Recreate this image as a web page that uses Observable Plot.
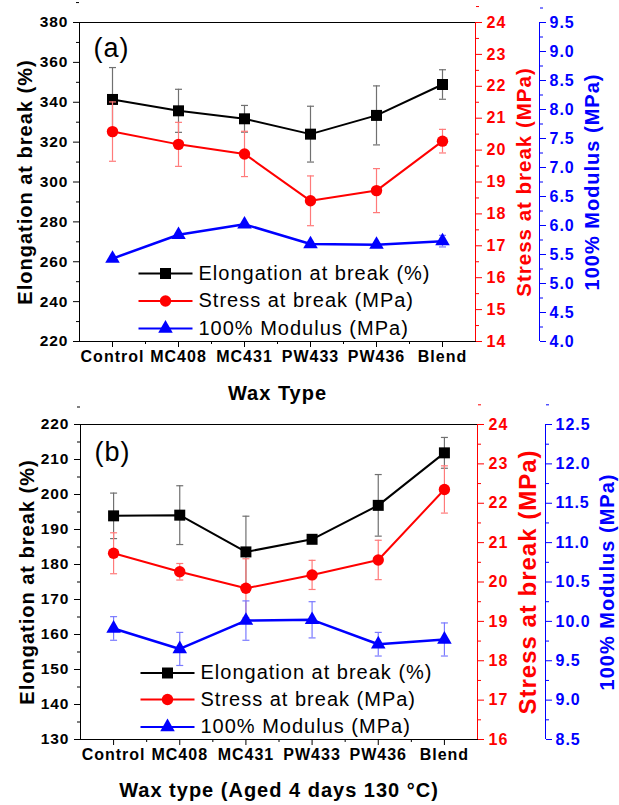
<!DOCTYPE html>
<html><head><meta charset="utf-8">
<script src="https://cdn.jsdelivr.net/npm/d3@7"></script>
<script src="https://cdn.jsdelivr.net/npm/@observablehq/plot@0.6"></script>
<style>
html,body{margin:0;padding:0;background:#fff;}
#chart{width:619px;height:805px;overflow:hidden;}
#chart svg{display:block;}
</style></head><body><div id="chart"></div>
<script>
// ---------- data ----------
const categories = ["Control", "MC408", "MC431", "PW433", "PW436", "Blend"];
const seriesNames = ["Elongation at break (%)", "Stress at break (MPa)", "100% Modulus (MPa)"];

// panel (a)
const elongA    = [341.4, 335.7, 331.7, 324.0, 333.4, 348.9];
const elongErrA = [16.0, 10.8, 6.7, 14.0, 14.8, 7.4];
const stressA    = [20.58, 20.18, 19.88, 18.41, 18.73, 20.28];
const stressErrA = [0.93, 0.69, 0.71, 0.78, 0.69, 0.37];
const modA    = [5.43, 5.84, 6.02, 5.68, 5.67, 5.73];
const modErrA = [0.03, 0.03, 0.03, 0.03, 0.03, 0.10];

// panel (b)
const elongB    = [193.9, 194.1, 183.6, 187.2, 196.9, 211.9];
const elongErrB = [6.5, 8.4, 10.2, 1.0, 8.8, 4.4];
const stressB    = [20.73, 20.26, 19.84, 20.18, 20.56, 22.35];
const stressErrB = [0.52, 0.21, 0.75, 0.37, 0.50, 0.60];
const modB    = [9.91, 9.65, 10.01, 10.02, 9.71, 9.77];
const modErrB = [0.15, 0.21, 0.25, 0.23, 0.15, 0.21];

// axis domains and tick steps
const leftDomA = [220, 380], leftStepA = 20;
const redDomA = [14, 24], redStepA = 1;
const blueDomA = [4, 9.5], blueStepA = 0.5;
const leftDomB = [130, 220], leftStepB = 10;
const redDomB = [16, 24], redStepB = 1;
const blueDomB = [8.5, 12.5], blueStepB = 0.5;

const xTitleA = "Wax Type";
const xTitleB = "Wax type (Aged 4 days 130 \u00B0C)";
const leftTitle = "Elongation at break (%)";
const redTitle = "Stress at break (MPa)";
const blueTitle = "100% Modulus (MPa)";

// ---------- drawing ----------
const RED = "#ff0000", BLUE = "#0000ff";
const FONT = "'Liberation Sans', Arial, Helvetica, sans-serif";
const hline = (hw) => ({draw(ctx) { ctx.moveTo(-hw, 0); ctx.lineTo(hw, 0); }});
const range = (a, b, s) => { const out = []; const n = Math.round((b - a) / s); for (let k = 0; k <= n; k++) out.push(+(a + k * s).toFixed(4)); return out; };

function panel(p) {
  const [L0, L1] = p.left;
  const map = (d) => (v) => L0 + (v - d[0]) / (d[1] - d[0]) * (L1 - L0);
  const unmap = (d) => (v) => d[0] + (v - L0) / (L1 - L0) * (d[1] - d[0]);
  const R = map(p.red), B = map(p.blue), uR = unmap(p.red), uB = unmap(p.blue);
  const rows = categories.map((c, k) => ({
    i: k + 1,
    e: p.elong[k], e1: p.elong[k] - p.elongErr[k], e2: p.elong[k] + p.elongErr[k],
    s: R(p.stress[k]), s1: R(p.stress[k] - p.stressErr[k]), s2: R(p.stress[k] + p.stressErr[k]),
    m: B(p.mod[k]), m1: B(p.mod[k] - p.modErr[k]), m2: B(p.mod[k] + p.modErr[k])
  }));
  const series = [
    {v: "e", lo: "e1", hi: "e2", color: "#000", err: "#707070", symbol: "square", r: 6.2, w: 2},
    {v: "s", lo: "s1", hi: "s2", color: RED, err: "#ff7a7a", symbol: "circle", r: 5.7, w: 2},
    {v: "m", lo: "m1", hi: "m2", color: BLUE, err: "#7a7aff", symbol: "triangle", r: 5.4, w: 2.5}
  ];
  const marks = [];
  marks.push(Plot.frame({stroke: "#000", strokeWidth: 1}));
  for (const s of series) {
    marks.push(Plot.ruleX(rows, {x: "i", y1: s.lo, y2: s.hi, stroke: s.err, strokeWidth: 1.2}));
    marks.push(Plot.dot(rows, {x: "i", y: s.lo, symbol: hline(3.5), fill: "none", stroke: s.err, strokeWidth: 1.2}));
    marks.push(Plot.dot(rows, {x: "i", y: s.hi, symbol: hline(3.5), fill: "none", stroke: s.err, strokeWidth: 1.2}));
    marks.push(Plot.line(rows, {x: "i", y: s.v, stroke: s.color, strokeWidth: s.w}));
    marks.push(Plot.dot(rows, {x: "i", y: s.v, symbol: s.symbol, r: s.r, fill: s.color, stroke: "none"}));
  }
  // axes lines (right red, offset blue)
  marks.push(Plot.ruleX([6.5], {x: d => d, stroke: RED, strokeWidth: 1}));
  marks.push(Plot.ruleX([6.5], {x: d => d, dx: p.blueOff, stroke: BLUE, strokeWidth: 1}));
  // left axis
  marks.push(Plot.axisY(range(p.left[0], p.left[1], p.leftStep), {anchor: "left", tickSize: 6, tickPadding: 5, fontSize: 15.5, fontWeight: "bold", tickFormat: d => String(Math.round(d)), label: null}));
  marks.push(Plot.axisY(range(p.left[0] + p.leftStep / 2, p.left[1], p.leftStep), {anchor: "left", tickSize: 3, tickFormat: () => "", label: null}));
  // red axis
  marks.push(Plot.axisY(range(p.red[0], p.red[1], p.redStep).map(R), {anchor: "right", color: RED, tickSize: 6, tickPadding: 5, fontSize: 16, fontWeight: "bold", tickFormat: d => String(Math.round(uR(d))), label: null}));
  marks.push(Plot.axisY(range(p.red[0] + p.redStep / 2, p.red[1], p.redStep).map(R), {anchor: "right", color: RED, tickSize: 3, tickFormat: () => "", label: null}));
  // blue axis
  marks.push(Plot.axisY(range(p.blue[0], p.blue[1], p.blueStep).map(B), {anchor: "right", dx: p.blueOff, color: BLUE, tickSize: 6, tickPadding: 4, fontSize: 16, fontWeight: "bold", tickFormat: d => (Math.round(uB(d) * 100) / 100).toFixed(1), label: null}));
  marks.push(Plot.axisY(range(p.blue[0] + p.blueStep / 2, p.blue[1], p.blueStep).map(B), {anchor: "right", dx: p.blueOff, color: BLUE, tickSize: 3, tickFormat: () => "", label: null}));
  // x axis
  marks.push(Plot.axisX([1, 2, 3, 4, 5, 6], {tickSize: 6, tickPadding: 3, fontSize: 16, fontWeight: "bold", tickFormat: i => categories[i - 1], label: null}));
  marks.push(Plot.axisX([1.5, 2.5, 3.5, 4.5, 5.5], {tickSize: 3, tickFormat: () => "", label: null}));
  // titles
  const titleOpts = {text: d => d, rotate: -90, textAnchor: "middle", lineAnchor: "middle", fontWeight: "bold"};
  marks.push(Plot.text([leftTitle], {...titleOpts, frameAnchor: "left", dx: p.leftTitleDx, fontSize: 20, fill: "#000"}));
  marks.push(Plot.text([redTitle], {...titleOpts, frameAnchor: "right", dx: p.redTitleDx, fontSize: p.redTitleSize, fill: RED}));
  marks.push(Plot.text([blueTitle], {...titleOpts, frameAnchor: "right", dx: p.blueTitleDx, fontSize: 20, fill: BLUE}));
  marks.push(Plot.text([p.xTitle], {text: d => d, frameAnchor: "bottom", dy: p.xTitleDy, textAnchor: "middle", lineAnchor: "middle", fontSize: 20, fontWeight: "bold", fill: "#000"}));
  marks.push(Plot.text([p.tag], {text: d => d, frameAnchor: "top-left", dx: 14, dy: p.tagDy, textAnchor: "start", lineAnchor: "middle", fontSize: 27, fill: "#000"}));
  // legend
  series.forEach((s, k) => {
    const dy = p.legDy[k];
    marks.push(Plot.dot([0], {frameAnchor: "bottom-left", dx: p.legX, dy, symbol: hline(27), fill: "none", stroke: s.color, strokeWidth: 2}));
    marks.push(Plot.dot([0], {frameAnchor: "bottom-left", dx: p.legX, dy, symbol: s.symbol, r: s.r, fill: s.color, stroke: "none"}));
    marks.push(Plot.text([seriesNames[k]], {text: d => d, frameAnchor: "bottom-left", dx: p.legX + 33, dy, textAnchor: "start", lineAnchor: "middle", fontSize: 20, fill: "#000"}));
  });
  return Plot.plot({
    width: 619, height: p.height,
    marginTop: p.mt, marginBottom: p.mb, marginLeft: p.ml, marginRight: p.mr,
    x: {type: "linear", domain: [0.5, 6.5]},
    y: {type: "linear", domain: p.left},
    style: {fontFamily: FONT, letterSpacing: "1px", background: "#fff", color: "#000", overflow: "visible"},
    marks
  });
}

const chart = document.getElementById("chart");
chart.appendChild(panel({
  tag: "(a)", left: leftDomA, leftStep: leftStepA, red: redDomA, redStep: redStepA, blue: blueDomA, blueStep: blueStepA,
  elong: elongA, elongErr: elongErrA, stress: stressA, stressErr: stressErrA, mod: modA, modErr: modErrA,
  height: 402, mt: 22, mb: 61, ml: 79, mr: 144, blueOff: 64,
  leftTitleDx: -54, redTitleDx: 49, redTitleSize: 20.5, blueTitleDx: 117, xTitleDy: 52, tagDy: 26,
  legX: 86, legDy: [-68, -40.5, -13], xTitle: xTitleA
}));
chart.appendChild(panel({
  tag: "(b)", left: leftDomB, leftStep: leftStepB, red: redDomB, redStep: redStepB, blue: blueDomB, blueStep: blueStepB,
  elong: elongB, elongErr: elongErrB, stress: stressB, stressErr: stressErrB, mod: modB, modErr: modErrB,
  height: 403, mt: 22, mb: 66, ml: 80, mr: 142, blueOff: 68,
  leftTitleDx: -53, redTitleDx: 51, redTitleSize: 24, blueTitleDx: 130, xTitleDy: 51, tagDy: 28,
  legX: 87, legDy: [-66.5, -40, -12.5], xTitle: xTitleB
}));
</script></body></html>
